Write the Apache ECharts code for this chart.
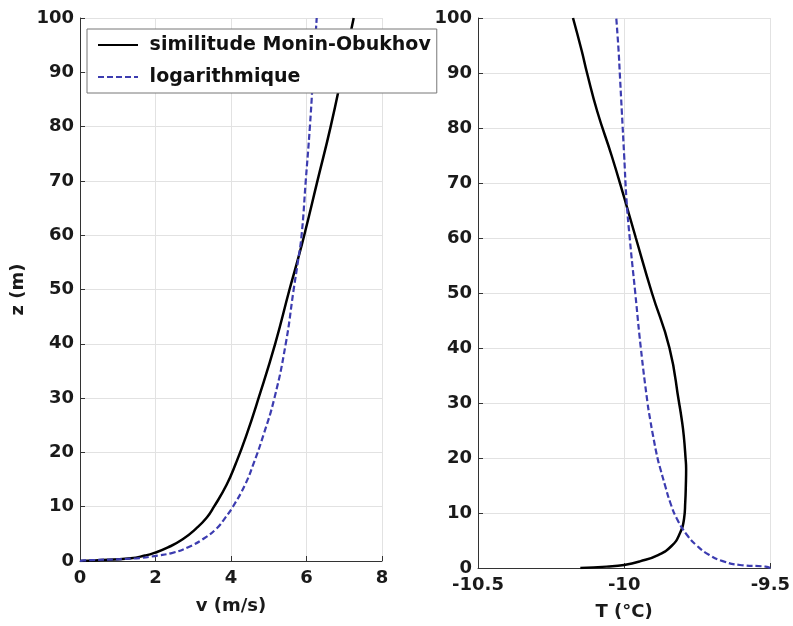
<!DOCTYPE html>
<html>
<head>
<meta charset="utf-8">
<script src="https://cdn.jsdelivr.net/npm/echarts@6/dist/echarts.min.js"></script>
<style>
html,body{margin:0;padding:0;background:#fff;}
#chart{width:793px;height:626px;}
</style>
</head>
<body>
<div id="chart"></div>
<script>
// ---- Data ----
const seriesNames = ['similitude Monin-Obukhov', 'logarithmique'];

// Left panel: wind speed v (m/s) vs height z (m)
const zLeft = [0, 0.1, 0.5, 1, 1.5, 2.5, 4, 6, 8, 10, 14, 18, 23, 30, 40, 50, 55, 60, 70, 80, 90, 100];
const vMoninObukhov = [0, 0.4, 1.35, 1.72, 1.97, 2.33, 2.72, 3.08, 3.36, 3.55, 3.88, 4.13, 4.4, 4.73, 5.17, 5.55, 5.75, 5.94, 6.29, 6.64, 6.95, 7.25];
const vLogarithmique = [0, 0.1, 1.5, 2.05, 2.45, 2.85, 3.25, 3.62, 3.85, 4.05, 4.37, 4.6, 4.85, 5.15, 5.45, 5.66, 5.77, 5.87, 5.98, 6.09, 6.18, 6.27];

// Right panel: temperature T (°C) vs height z (m)
const zRight = [0, 0.25, 0.55, 1.2, 2.4, 4, 6, 9, 12, 15, 18, 20, 24, 27, 30, 40, 50, 60, 67, 75, 83, 90, 94, 100];
const tMoninObukhov = [-10.15, -10.06, -10.0, -9.946, -9.882, -9.838, -9.812, -9.795, -9.791, -9.789, -9.788, -9.79, -9.796, -9.803, -9.812, -9.845, -9.905, -9.96, -9.998, -10.043, -10.092, -10.127, -10.145, -10.175];
const tLogarithmique = [-9.5, -9.516, -9.604, -9.66, -9.71, -9.75, -9.785, -9.82, -9.843, -9.86, -9.876, -9.886, -9.901, -9.911, -9.92, -9.943, -9.962, -9.981, -9.992, -10.0, -10.008, -10.015, -10.019, -10.027];

// Axis settings
const leftXName = 'v (m/s)';
const rightXName = 'T (°C)';
const yName = 'z (m)';

// ---- Chart ----
const FONT = 'DejaVu Sans';
const labelStyle = {fontFamily: FONT, fontWeight: 'bold', fontSize: 18, color: '#1a1a1a'};
const axisLineStyle = {show: true, lineStyle: {color: '#333', width: 1}};
const tickStyle = {show: true, inside: true, length: 5, lineStyle: {color: '#333'}};
const splitStyle = {show: true, lineStyle: {color: '#e2e2e2', width: 1}};

const pairs = (xs, ys) => ys.map((y, i) => [xs[i], y]);

const chart = echarts.init(document.getElementById('chart'), null, {renderer: 'canvas'});
chart.setOption({
  animation: false,
  backgroundColor: '#fff',
  grid: [
    {left: 80, right: 411, top: 18, bottom: 65},
    {left: 478, right: 15, top: 18, bottom: 58}
  ],
  xAxis: [
    {gridIndex: 0, type: 'value', min: 0, max: 8, interval: 2,
     name: leftXName, nameLocation: 'middle', nameGap: 36, nameTextStyle: labelStyle,
     axisLine: axisLineStyle, axisTick: tickStyle, splitLine: splitStyle,
     axisLabel: Object.assign({margin: 8}, labelStyle)},
    {gridIndex: 1, type: 'value', min: -10.5, max: -9.5, interval: 0.5,
     name: rightXName, nameLocation: 'middle', nameGap: 35, nameTextStyle: labelStyle,
     axisLine: axisLineStyle, axisTick: tickStyle, splitLine: splitStyle,
     axisLabel: Object.assign({margin: 8}, labelStyle)}
  ],
  yAxis: [
    {gridIndex: 0, type: 'value', min: 0, max: 100, interval: 10,
     name: yName, nameLocation: 'middle', nameGap: 53, nameRotate: 90, nameTextStyle: labelStyle,
     axisLine: axisLineStyle, axisTick: tickStyle, splitLine: splitStyle,
     axisLabel: Object.assign({margin: 6}, labelStyle)},
    {gridIndex: 1, type: 'value', min: 0, max: 100, interval: 10,
     axisLine: axisLineStyle, axisTick: tickStyle, splitLine: splitStyle,
     axisLabel: Object.assign({margin: 6}, labelStyle)}
  ],
  legend: {
    data: seriesNames,
    orient: 'vertical',
    left: 87, top: 29,
    padding: [6, 6, 6, 10],
    itemGap: 12,
    itemWidth: 40, itemHeight: 14,
    itemStyle: {opacity: 0},
    backgroundColor: '#fff',
    borderColor: '#777', borderWidth: 1, borderRadius: 0,
    formatter: n => ' ' + n,
    textStyle: {fontFamily: FONT, fontWeight: 'bold', fontSize: 19, color: '#111', lineHeight: 20},
    z: 10
  },
  series: [
    {name: seriesNames[0], type: 'line', xAxisIndex: 0, yAxisIndex: 0, showSymbol: false, symbol: 'none', smooth: 0.5,
     data: pairs(vMoninObukhov, zLeft), lineStyle: {color: '#000', width: 2.5}, itemStyle: {color: '#000'}},
    {name: seriesNames[1], type: 'line', xAxisIndex: 0, yAxisIndex: 0, showSymbol: false, symbol: 'none', smooth: 0.5,
     data: pairs(vLogarithmique, zLeft), lineStyle: {color: '#3c3cb0', width: 2.2, type: [6, 3]}, itemStyle: {color: '#3c3cb0'}},
    {name: seriesNames[0], type: 'line', xAxisIndex: 1, yAxisIndex: 1, showSymbol: false, symbol: 'none', smooth: 0.5,
     data: pairs(tMoninObukhov, zRight), lineStyle: {color: '#000', width: 2.5}, itemStyle: {color: '#000'}},
    {name: seriesNames[1], type: 'line', xAxisIndex: 1, yAxisIndex: 1, showSymbol: false, symbol: 'none', smooth: 0.5,
     data: pairs(tLogarithmique, zRight), lineStyle: {color: '#3c3cb0', width: 2.2, type: [6, 3]}, itemStyle: {color: '#3c3cb0'}}
  ]
});
</script>
</body>
</html>
